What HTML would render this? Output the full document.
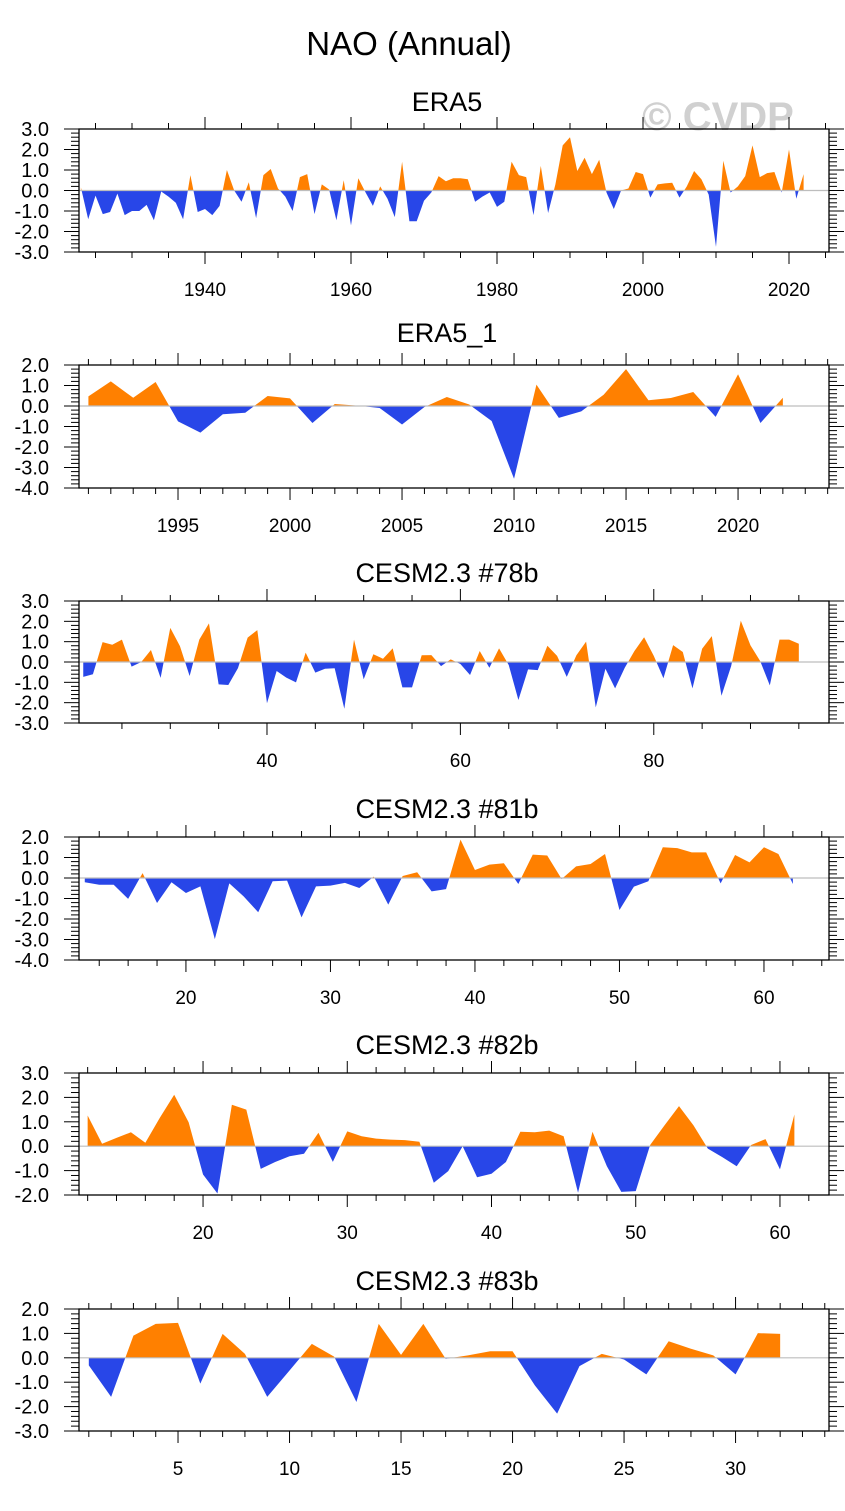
<!DOCTYPE html>
<html><head><meta charset="utf-8"><style>
html,body{margin:0;padding:0;background:#fff;}
svg text{font-family:"Liberation Sans",Arial,sans-serif;}
</style></head><body>
<svg id="fig" width="845" height="1506" viewBox="0 0 845 1506" xmlns="http://www.w3.org/2000/svg">
<text x="409" y="55" font-size="33" text-anchor="middle">NAO (Annual)</text>
<text x="718" y="130" font-size="40" font-weight="bold" fill="#d0d0d0" text-anchor="middle">© CVDP</text>
</svg>
<script>
const era5Years = [];for(let y=1923;y<=2022;y++)era5Years.push(y);
const era5Values = [0.15,-1.4,-0.25,-1.15,-1.05,-0.15,-1.2,-1.0,-1.0,-0.7,-1.45,-0.05,-0.3,-0.6,-1.4,0.75,-1.05,-0.9,-1.2,-0.75,1.0,0.0,-0.55,0.4,-1.35,0.75,1.05,0.1,-0.3,-1.0,0.65,0.8,-1.15,0.3,0.05,-1.45,0.5,-1.7,0.6,-0.1,-0.75,0.2,-0.4,-1.3,1.4,-1.5,-1.5,-0.5,-0.1,0.7,0.45,0.6,0.6,0.55,-0.55,-0.3,-0.1,-0.8,-0.55,1.4,0.75,0.65,-1.2,1.2,-1.1,0.3,2.2,2.6,0.95,1.6,0.8,1.5,-0.1,-0.9,0.0,0.1,0.9,0.8,-0.35,0.3,0.35,0.38,-0.35,0.2,0.95,0.55,-0.2,-2.75,1.45,-0.1,0.2,0.7,2.2,0.65,0.85,0.9,-0.1,2.0,-0.4,0.8];
const era5TickLabels = [1940,1960,1980,2000,2020];
const era5YTicks = [3,2,1,0,-1,-2,-3];

const era51Years = [];for(let y=1991;y<=2022;y++)era51Years.push(y);
const era51Values = [0.47,1.2,0.4,1.17,-0.75,-1.3,-0.4,-0.33,0.49,0.37,-0.83,0.1,0.02,-0.1,-0.9,-0.05,0.44,0.07,-0.73,-3.55,1.04,-0.58,-0.26,0.55,1.8,0.28,0.39,0.68,-0.53,1.55,-0.83,0.4];
const era51TickLabels = [1995,2000,2005,2010,2015,2020];
const era51YTicks = [2,1,0,-1,-2,-3,-4];

const m78Years = [];for(let y=21;y<=95;y++)m78Years.push(y);
const m78Values = [-0.73,-0.6,0.98,0.85,1.1,-0.23,0.0,0.59,-0.78,1.68,0.78,-0.69,1.1,1.9,-1.1,-1.13,-0.3,1.2,1.57,-2.03,-0.44,-0.77,-1.0,0.46,-0.52,-0.33,-0.31,-2.3,1.1,-0.85,0.38,0.16,0.67,-1.25,-1.25,0.33,0.34,-0.2,0.13,-0.1,-0.64,0.54,-0.28,0.67,-0.15,-1.87,-0.36,-0.4,0.8,0.3,-0.73,0.33,1.0,-2.23,-0.33,-1.3,-0.28,0.54,1.22,0.3,-0.8,0.83,0.49,-1.3,0.65,1.27,-1.66,-0.2,2.03,0.82,0.05,-1.15,1.1,1.1,0.9];
const m78TickLabels = [40,60,80];
const m78YTicks = [3,2,1,0,-1,-2,-3];

const m81Years = [];for(let y=13;y<=62;y++)m81Years.push(y);
const m81Values = [-0.21,-0.33,-0.33,-1.02,0.24,-1.22,-0.21,-0.73,-0.41,-2.98,-0.26,-0.9,-1.67,-0.16,-0.13,-1.92,-0.41,-0.37,-0.24,-0.49,0.07,-1.3,0.1,0.28,-0.65,-0.54,1.87,0.39,0.65,0.72,-0.29,1.14,1.1,-0.05,0.57,0.68,1.17,-1.56,-0.42,-0.16,1.5,1.46,1.25,1.25,-0.26,1.12,0.76,1.5,1.17,-0.29];
const m81TickLabels = [20,30,40,50,60];
const m81YTicks = [2,1,0,-1,-2,-3,-4];

const m82Years = [];for(let y=12;y<=61;y++)m82Years.push(y);
const m82Values = [1.26,0.1,0.34,0.57,0.14,1.16,2.11,0.98,-1.16,-1.94,1.7,1.5,-0.93,-0.65,-0.41,-0.31,0.55,-0.64,0.61,0.41,0.31,0.27,0.25,0.18,-1.5,-1.02,0.0,-1.27,-1.13,-0.65,0.59,0.57,0.64,0.41,-1.91,0.59,-0.82,-1.87,-1.84,0.05,0.86,1.64,0.86,-0.1,-0.45,-0.82,0.05,0.29,-0.95,1.3];
const m82TickLabels = [20,30,40,50,60];
const m82YTicks = [3,2,1,0,-1,-2];

const m83Years = [];for(let y=1;y<=32;y++)m83Years.push(y);
const m83Values = [-0.31,-1.6,0.91,1.39,1.43,-1.06,0.98,0.16,-1.6,-0.52,0.57,0.05,-1.81,1.39,0.12,1.39,-0.04,0.1,0.27,0.27,-1.13,-2.29,-0.34,0.16,-0.07,-0.68,0.68,0.37,0.1,-0.68,1.01,0.98];
const m83TickLabels = [5,10,15,20,25,30];
const m83YTicks = [2,1,0,-1,-2,-3];

const NS='http://www.w3.org/2000/svg';
const svg=document.getElementById('fig');
const L=79,R=829;
function mk(tag,attrs,parent){const e=document.createElementNS(NS,tag);for(const k in attrs)e.setAttribute(k,attrs[k]);(parent||svg).appendChild(e);return e;}

const panels=[
 {id:'era5',title:'ERA5',ty:111,top:129,bot:252,years:era5Years,vals:era5Values,xt:era5TickLabels,yt:era5YTicks,xmin:1922.74,xmax:2025.48,minorX:5},
 {id:'era5-1',title:'ERA5_1',ty:342,top:365,bot:488,years:era51Years,vals:era51Values,xt:era51TickLabels,yt:era51YTicks,xmin:1990.58,xmax:2024.06,minorX:1},
 {id:'cesm-78b',title:'CESM2.3 #78b',ty:582,top:601,bot:723,years:m78Years,vals:m78Values,xt:m78TickLabels,yt:m78YTicks,xmin:20.56,xmax:98.12,minorX:5},
 {id:'cesm-81b',title:'CESM2.3 #81b',ty:818,top:837,bot:960,years:m81Years,vals:m81Values,xt:m81TickLabels,yt:m81YTicks,xmin:12.6,xmax:64.5,minorX:2},
 {id:'cesm-82b',title:'CESM2.3 #82b',ty:1054,top:1073,bot:1195,years:m82Years,vals:m82Values,xt:m82TickLabels,yt:m82YTicks,xmin:11.4,xmax:63.4,minorX:2},
 {id:'cesm-83b',title:'CESM2.3 #83b',ty:1290,top:1309,bot:1431,years:m83Years,vals:m83Values,xt:m83TickLabels,yt:m83YTicks,xmin:0.56,xmax:34.19,minorX:1}
];

panels.forEach(p=>{
 const g=mk('g',{});
 
 
 const ymax=p.yt[0],ymin=p.yt[p.yt.length-1];
 const xs=v=>L+(v-p.xmin)/(p.xmax-p.xmin)*(R-L);
 const ys=v=>p.top+(ymax-v)/(ymax-ymin)*(p.bot-p.top);
 const t=mk('text',{x:447,y:p.ty,'font-size':27,'text-anchor':'middle'},g);
 t.textContent=p.title;
 
 
 const cid='c-'+p.id;
 const defs=mk('defs',{},g);
 const cp1=mk('clipPath',{id:cid+'-a'},defs);mk('rect',{x:L,y:p.top,width:R-L,height:ys(0)-p.top},cp1);
 const cp2=mk('clipPath',{id:cid+'-b'},defs);mk('rect',{x:L,y:ys(0),width:R-L,height:p.bot-ys(0)},cp2);
 let pts=xs(p.years[0]).toFixed(2)+','+ys(0).toFixed(2);
 p.years.forEach((yr,i)=>{pts+=' '+xs(yr).toFixed(2)+','+ys(p.vals[i]).toFixed(2);});
 pts+=' '+xs(p.years[p.years.length-1]).toFixed(2)+','+ys(0).toFixed(2);
 const pa=mk('polygon',{points:pts,fill:'#ff8000','clip-path':'url(#'+cid+'-a)'},g);
 
 
 const pb=mk('polygon',{points:pts,fill:'#2846e8','clip-path':'url(#'+cid+'-b)'},g);
 
 
 const zl=mk('line',{x1:L,x2:R,y1:ys(0),y2:ys(0),stroke:'#bdbdbd','stroke-width':1.2},g);
 
 
 const fr=mk('rect',{x:L,y:p.top,width:R-L,height:p.bot-p.top,fill:'none',stroke:'#000','stroke-width':1.3},g);
 
 
 for(let v=ymin;v<=ymax+1e-6;v+=0.2){
   const yy=ys(v);const major=Math.abs(v-Math.round(v))<1e-6;const len=major?15:8;
   mk('line',{x1:L-len,x2:L,y1:yy,y2:yy,stroke:'#000','stroke-width':1},g);
   mk('line',{x1:R,x2:R+len,y1:yy,y2:yy,stroke:'#000','stroke-width':1},g);
 }
 p.yt.forEach(v=>{
   const tl=mk('text',{x:49,y:ys(v)+7,'font-size':20,'text-anchor':'end'},g);
   tl.textContent=v.toFixed(1);
   
   
 });
 const start=Math.ceil(p.xmin/p.minorX)*p.minorX;
 for(let v=start;v<=p.xmax;v+=p.minorX){
   const xx=xs(v);const major=p.xt.indexOf(v)>=0;const len=major?12:6;
   mk('line',{x1:xx,x2:xx,y1:p.bot,y2:p.bot+len,stroke:'#000','stroke-width':1},g);
   mk('line',{x1:xx,x2:xx,y1:p.top-len,y2:p.top,stroke:'#000','stroke-width':1},g);
 }
 p.xt.forEach(v=>{
   const tl=mk('text',{x:xs(v),y:p.bot+44,'font-size':19,'text-anchor':'middle'},g);
   tl.textContent=String(v);
   
   
 });
});
</script>
</body></html>
